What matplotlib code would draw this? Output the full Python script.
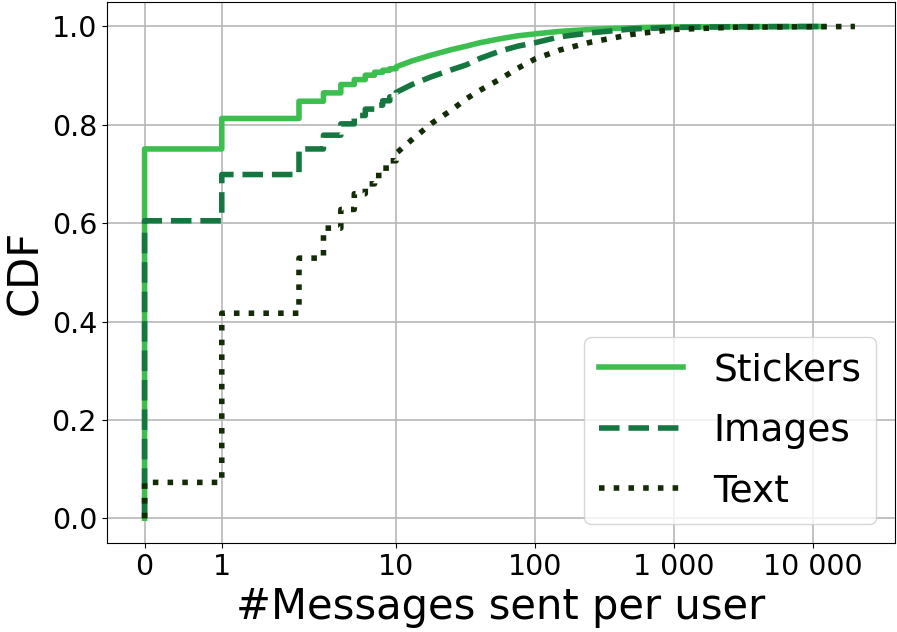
# CDF of messages sent per user, by message type

import matplotlib.pyplot as plt
import numpy as np

counts = np.arange(11)  # 0..10, where the CDF steps are still visible

stickers_cdf = [0.751, 0.813, 0.848, 0.865, 0.882, 0.892, 0.901, 0.907, 0.911, 0.914, 0.918]
stickers_tail_x = [13, 18, 25, 32, 40, 56, 75, 100, 150, 250, 365, 600, 1000, 2000, 5000, 12000]
stickers_tail_y = [0.930, 0.942, 0.953, 0.960, 0.967, 0.975, 0.981, 0.985, 0.990, 0.994, 0.996,
                   0.998, 0.999, 0.9995, 0.9998, 1.0]

images_cdf = [0.605, 0.699, 0.751, 0.779, 0.802, 0.819, 0.832, 0.840, 0.849, 0.857, 0.866]
images_tail_x = [13, 18, 25, 32, 40, 56, 75, 100, 150, 250, 500, 1000, 3000, 12000]
images_tail_y = [0.882, 0.898, 0.912, 0.922, 0.935, 0.950, 0.960, 0.967, 0.979, 0.987, 0.995,
                 0.998, 0.9995, 1.0]

text_cdf = [0.073, 0.417, 0.529, 0.590, 0.628, 0.660, 0.680, 0.697, 0.712, 0.727, 0.742]
text_tail_x = [13, 18, 25, 32, 40, 56, 75, 100, 150, 250, 500, 1000, 2800, 20000]
text_tail_y = [0.770, 0.803, 0.830, 0.853, 0.870, 0.893, 0.915, 0.934, 0.952, 0.968, 0.984,
               0.994, 0.9986, 1.0]

xticks = [0, 1, 10, 100, 1000, 10000]


def cdf_line(cdf, tail_x, tail_y):
    # steps for the small integer counts, then the (dense) tail as a curve
    xs = np.concatenate([np.repeat(counts, 2), tail_x])
    ys = np.concatenate([[0.0], np.repeat(cdf, 2)[:-1], tail_y])
    return xs, ys


fig, ax = plt.subplots(figsize=(8.97, 6.32), dpi=100)
fig.subplots_adjust(left=0.119, right=0.998, top=0.997, bottom=0.141)

x, y = cdf_line(stickers_cdf, stickers_tail_x, stickers_tail_y)
ax.plot(x, y, color='#3dbf4f', lw=4, linestyle='-', label='Stickers')
x, y = cdf_line(images_cdf, images_tail_x, images_tail_y)
ax.plot(x, y, color='#15773f', lw=4, linestyle='--', label='Images')
x, y = cdf_line(text_cdf, text_tail_x, text_tail_y)
ax.plot(x, y, color='#132b06', lw=4, linestyle=':', label='Text')

ax.set_xscale('symlog', linthresh=2, linscale=1)
ax.set_xlim(-0.49, 39000)
ax.set_ylim(-0.05, 1.05)
ax.set_xticks(xticks)
ax.set_xticklabels([f'{v:,}'.replace(',', ' ') for v in xticks])
ax.xaxis.set_minor_locator(plt.NullLocator())
ax.set_yticks([0.0, 0.2, 0.4, 0.6, 0.8, 1.0])
ax.tick_params(labelsize=20.5)
ax.grid(True, color='#b8b8b8', lw=1.2)
ax.set_axisbelow(True)

ax.set_xlabel('#Messages sent per user', fontsize=30)
ax.set_ylabel('CDF', fontsize=30)
ax.legend(loc='lower right', fontsize=27, handlelength=2.25, labelspacing=0.65)

plt.savefig('out.png')
plt.close()
